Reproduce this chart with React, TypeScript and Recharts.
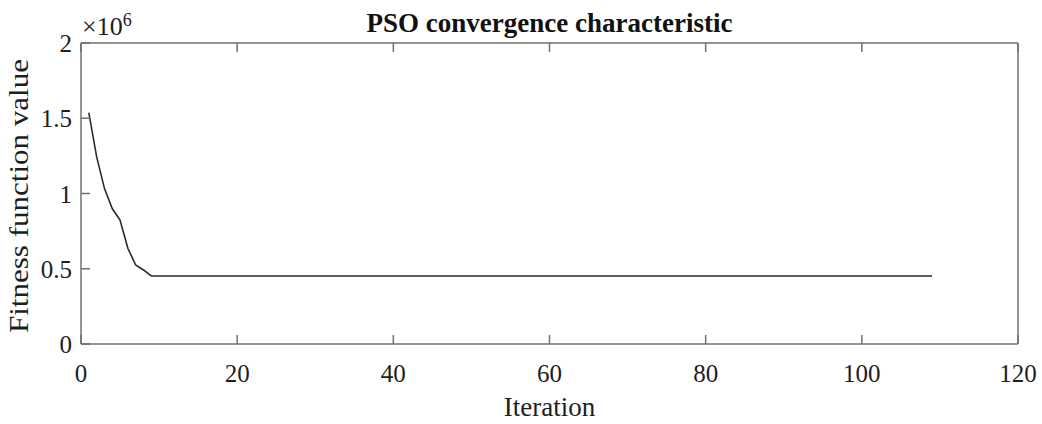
import React from 'react';
import { LineChart, Line, XAxis, YAxis } from 'recharts';

// PSO best fitness per iteration (flat after iteration 9 until the last one, 109)
const iterations = [1, 2, 3, 4, 5, 6, 7, 8, 9, 109];
const fitness = [1537000, 1245000, 1034000, 900000, 824000, 636000, 525000, 492000, 452000, 452000];
const xTicks = [0, 20, 40, 60, 80, 100, 120];
const yTicks = [0, 500000, 1000000, 1500000, 2000000];

const data = iterations.map((it, i) => ({ iteration: it, fitness: fitness[i] }));

const FONT = '"Liberation Serif", "Times New Roman", serif';
const AXIS = '#707070';
const TEXT = '#1e1e1e';
const TICK_LEN = 9;

const fmtY = (v: number) => String(v / 1e6);

function BottomTick({ x, y, payload }: any) {
  return (
    <g>
      <line x1={x} y1={y} x2={x} y2={y - TICK_LEN} stroke={AXIS} strokeWidth={1.5} />
      <text x={x} y={y + 38} textAnchor="middle" fontSize={25} fontFamily={FONT} fill={TEXT}>
        {payload.value}
      </text>
    </g>
  );
}

function TopTick({ x, y }: any) {
  return <line x1={x} y1={y} x2={x} y2={y + TICK_LEN} stroke={AXIS} strokeWidth={1.5} />;
}

function LeftTick({ x, y, payload }: any) {
  return (
    <g>
      <line x1={x} y1={y} x2={x + TICK_LEN} y2={y} stroke={AXIS} strokeWidth={1.5} />
      <text x={x - 9} y={y + 9} textAnchor="end" fontSize={25} fontFamily={FONT} fill={TEXT}>
        {fmtY(payload.value)}
      </text>
    </g>
  );
}

function RightTick({ x, y }: any) {
  return <line x1={x} y1={y} x2={x - TICK_LEN} y2={y} stroke={AXIS} strokeWidth={1.5} />;
}

export default function App() {
  return (
    <div style={{ position: 'absolute', left: 0, top: 0, width: 1042, height: 424, background: '#fff' }}>
      <LineChart
        width={1042}
        height={424}
        data={data}
        margin={{ top: 33, right: 14, bottom: 30, left: 21 }}
      >
        <XAxis
          xAxisId="bottom"
          dataKey="iteration"
          type="number"
          domain={[0, 120]}
          ticks={xTicks}
          height={50}
          tickSize={0}
          tickMargin={0}
          tickLine={false}
          axisLine={{ stroke: AXIS, strokeWidth: 1.5 }}
          tick={<BottomTick />}
          interval={0}
        />
        <XAxis
          xAxisId="top"
          orientation="top"
          dataKey="iteration"
          type="number"
          domain={[0, 120]}
          ticks={xTicks}
          height={10}
          tickSize={0}
          tickMargin={0}
          tickLine={false}
          axisLine={{ stroke: AXIS, strokeWidth: 1.5 }}
          tick={<TopTick />}
          interval={0}
        />
        <YAxis
          yAxisId="left"
          type="number"
          domain={[0, 2000000]}
          ticks={yTicks}
          width={60}
          tickSize={0}
          tickMargin={0}
          tickLine={false}
          axisLine={{ stroke: AXIS, strokeWidth: 1.5 }}
          tick={<LeftTick />}
          interval={0}
        />
        <YAxis
          yAxisId="right"
          orientation="right"
          type="number"
          domain={[0, 2000000]}
          ticks={yTicks}
          width={10}
          tickSize={0}
          tickMargin={0}
          tickLine={false}
          axisLine={{ stroke: AXIS, strokeWidth: 1.5 }}
          tick={<RightTick />}
          interval={0}
        />
        <Line
          xAxisId="bottom"
          yAxisId="left"
          type="linear"
          dataKey="fitness"
          stroke="#2a2a2a"
          strokeWidth={1.6}
          dot={false}
          isAnimationActive={false}
        />
      </LineChart>
      <svg
        width={1042}
        height={424}
        style={{ position: 'absolute', left: 0, top: 0, pointerEvents: 'none' }}
      >
        <text x={549.5} y={32} textAnchor="middle" fontSize={27} fontWeight="bold" fontFamily={FONT} fill="#111">
          PSO convergence characteristic
        </text>
        <text x={82} y={35} fontSize={26} fontFamily={FONT} fill={TEXT}>
          ×10
          <tspan dy={-9} fontSize={18}>6</tspan>
        </text>
        <text
          x={0}
          y={0}
          transform="translate(28,196) rotate(-90)"
          textAnchor="middle"
          fontSize={28}
          fontFamily={FONT}
          fill={TEXT}
          textLength={274}
          lengthAdjust="spacingAndGlyphs"
        >
          Fitness function value
        </text>
        <text x={549.5} y={416} textAnchor="middle" fontSize={27} fontFamily={FONT} fill={TEXT}>
          Iteration
        </text>
      </svg>
    </div>
  );
}
